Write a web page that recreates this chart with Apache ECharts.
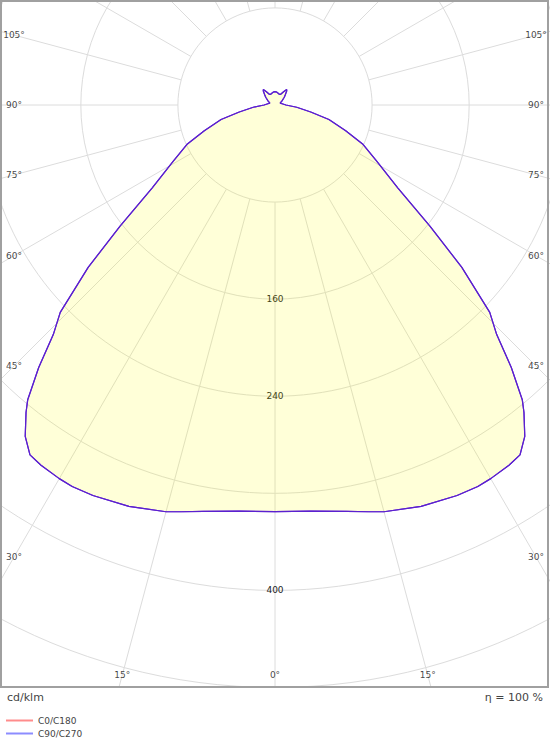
<!DOCTYPE html>
<html>
<head>
<meta charset="utf-8">
<script src="https://cdn.jsdelivr.net/npm/echarts@6/dist/echarts.min.js"></script>
<style>
html,body{margin:0;padding:0;background:#fff;}
#chart{width:550px;height:750px;}
</style>
</head>
<body>
<div id="chart"></div>
<script>
// Gamma angles (deg from nadir) for one half-plane
const gammaAngles = [0, 5, 10, 13, 15, 20, 25, 28, 30, 33, 35, 37, 39, 40, 42, 44, 46, 49, 52, 56, 61, 66, 70, 75, 79, 84, 90, 100, 110, 120, 130, 135, 140, 143, 147, 152, 158, 165, 172, 180];
// Luminous intensity, cd/klm (C0/C180 plane)
const c0c180 = [335, 336, 340, 344, 347, 352, 355, 356, 355.5, 354, 352, 342, 326, 317, 291, 263, 246, 204, 162, 122, 96, 79, 62, 46, 30, 18, 9, 6, 4.5, 6.5, 10, 12, 15, 16, 13, 10, 9.5, 10, 10.7, 11];
// Luminous intensity, cd/klm (C90/C270 plane)
const c90c270 = [335, 336, 340, 344, 347, 352, 355, 356, 355.5, 354, 352, 342, 326, 317, 291, 263, 246, 204, 162, 122, 96, 79, 62, 46, 30, 18, 9, 6, 4.5, 6.5, 10, 12, 15, 16, 13, 10, 9.5, 10, 10.7, 11];
// Radial tick labels shown
const radiusLabels = [160, 240, 400];
// Angle labels shown at the frame
const angleLabels = [0, 15, 30, 45, 60, 75, 90, 105];
const seriesNames = ['C0/C180', 'C90/C270'];

const CX = 275, CY = 105, R_MAX = 560, R_PX = 679.6, R_GRID_MIN = 80;
const pxPerUnit = R_PX / R_MAX;

function loop(vals) {
  const pts = [];
  for (let i = 0; i < gammaAngles.length; i++) pts.push([vals[i], gammaAngles[i]]);
  for (let i = gammaAngles.length - 1; i >= 0; i--) pts.push([vals[i], 360 - gammaAngles[i]]);
  return pts;
}

// label positions at the inset frame
const insetL = 14, insetR = 536, insetB = 675;
const labelData = [];
angleLabels.forEach(a => {
  const rad = a * Math.PI / 180;
  const s = Math.sin(rad), c = Math.cos(rad);
  let t = Infinity;
  if (s > 1e-6) t = Math.min(t, (CX - insetL) / s);
  if (c > 1e-6) t = Math.min(t, (insetB - CY) / c);
  labelData.push({ name: a + '°', value: [t / pxPerUnit, a] });
  if (a !== 0) {
    let t2 = Infinity;
    if (s > 1e-6) t2 = Math.min(t2, (insetR - CX) / s);
    if (c > 1e-6) t2 = Math.min(t2, (insetB - CY) / c);
    labelData.push({ name: a + '°', value: [t2 / pxPerUnit, 360 - a] });
  }
});

const FONT = 'DejaVu Sans';
const GRID = '#dcdcdc';
const chart = echarts.init(document.getElementById('chart'), null, { renderer: 'svg' });
chart.setOption({
  animation: false,
  backgroundColor: '#fff',
  title: [
    { text: 'cd/klm', left: 7, top: 692, padding: 0, z: 20, textStyle: { fontSize: 11, fontWeight: 'normal', color: '#444', fontFamily: FONT } },
    { text: 'η = 100 %', right: 7, top: 692, padding: 0, z: 20, textStyle: { fontSize: 11, fontWeight: 'normal', color: '#444', fontFamily: FONT } }
  ],
  legend: {
    orient: 'vertical', left: 6, top: 716, z: 20, padding: 0,
    itemWidth: 27, itemHeight: 2, itemGap: 4,
    selectedMode: false,
    textStyle: { fontSize: 9, color: '#444', fontFamily: FONT },
    data: [
      { name: seriesNames[0], icon: 'rect', itemStyle: { color: '#ff8c8c' } },
      { name: seriesNames[1], icon: 'rect', itemStyle: { color: '#8c8cff' } }
    ]
  },
  polar: [
    { center: [CX, CY], radius: [R_GRID_MIN * pxPerUnit, R_PX] },
    { center: [CX, CY], radius: R_PX }
  ],
  angleAxis: [
    {
      polarIndex: 0, type: 'value', min: 0, max: 360, interval: 15, startAngle: 270, clockwise: true,
      axisLine: { show: false }, axisTick: { show: false }, axisLabel: { show: false },
      splitLine: { show: true, lineStyle: { color: GRID, width: 1 } }
    },
    {
      polarIndex: 1, type: 'value', min: 0, max: 360, interval: 15, startAngle: 270, clockwise: true,
      axisLine: { show: false }, axisTick: { show: false }, axisLabel: { show: false },
      splitLine: { show: false }
    }
  ],
  radiusAxis: [
    {
      polarIndex: 0, type: 'value', min: R_GRID_MIN, max: R_MAX, interval: 80,
      axisLine: { show: false }, axisTick: { show: false },
      axisLabel: {
        show: true, margin: 0, align: 'center', verticalAlign: 'middle',
        fontSize: 9, color: '#222', fontFamily: FONT,
        formatter: v => radiusLabels.indexOf(v) >= 0 ? String(v) : ''
      },
      splitLine: { show: true, lineStyle: { color: GRID, width: 1 } }
    },
    {
      polarIndex: 1, type: 'value', min: 0, max: R_MAX, interval: 80,
      axisLine: { show: false }, axisTick: { show: false }, axisLabel: { show: false },
      splitLine: { show: false }
    }
  ],
  series: [
    {
      name: seriesNames[0], type: 'line', coordinateSystem: 'polar', polarIndex: 1,
      data: loop(c0c180), showSymbol: false, symbol: 'none', silent: true,
      itemStyle: { color: '#ff8c8c' },
      lineStyle: { color: '#6a2ad0', width: 1.2 },
      areaStyle: { color: 'rgba(255,255,0,0.22)' }
    },
    {
      name: seriesNames[1], type: 'line', coordinateSystem: 'polar', polarIndex: 1,
      data: loop(c90c270), showSymbol: false, symbol: 'none', silent: true,
      itemStyle: { color: '#8c8cff' },
      lineStyle: { color: '#5a20d0', width: 1.2 }
    },
    {
      type: 'scatter', coordinateSystem: 'polar', polarIndex: 1, data: labelData,
      symbolSize: 1, itemStyle: { color: 'rgba(0,0,0,0)' }, silent: true, z: 5,
      label: { show: true, position: 'inside', formatter: '{b}', fontSize: 9, color: '#111', fontFamily: FONT }
    }
  ],
  graphic: [
    { type: 'rect', z: 10, shape: { x: 0, y: 688, width: 550, height: 62 }, style: { fill: '#fff' }, silent: true },
    { type: 'rect', z: 11, shape: { x: 1, y: 1, width: 547, height: 686 }, style: { fill: 'none', stroke: '#a0a0a0', lineWidth: 2 }, silent: true }
  ]
});
</script>
</body>
</html>
